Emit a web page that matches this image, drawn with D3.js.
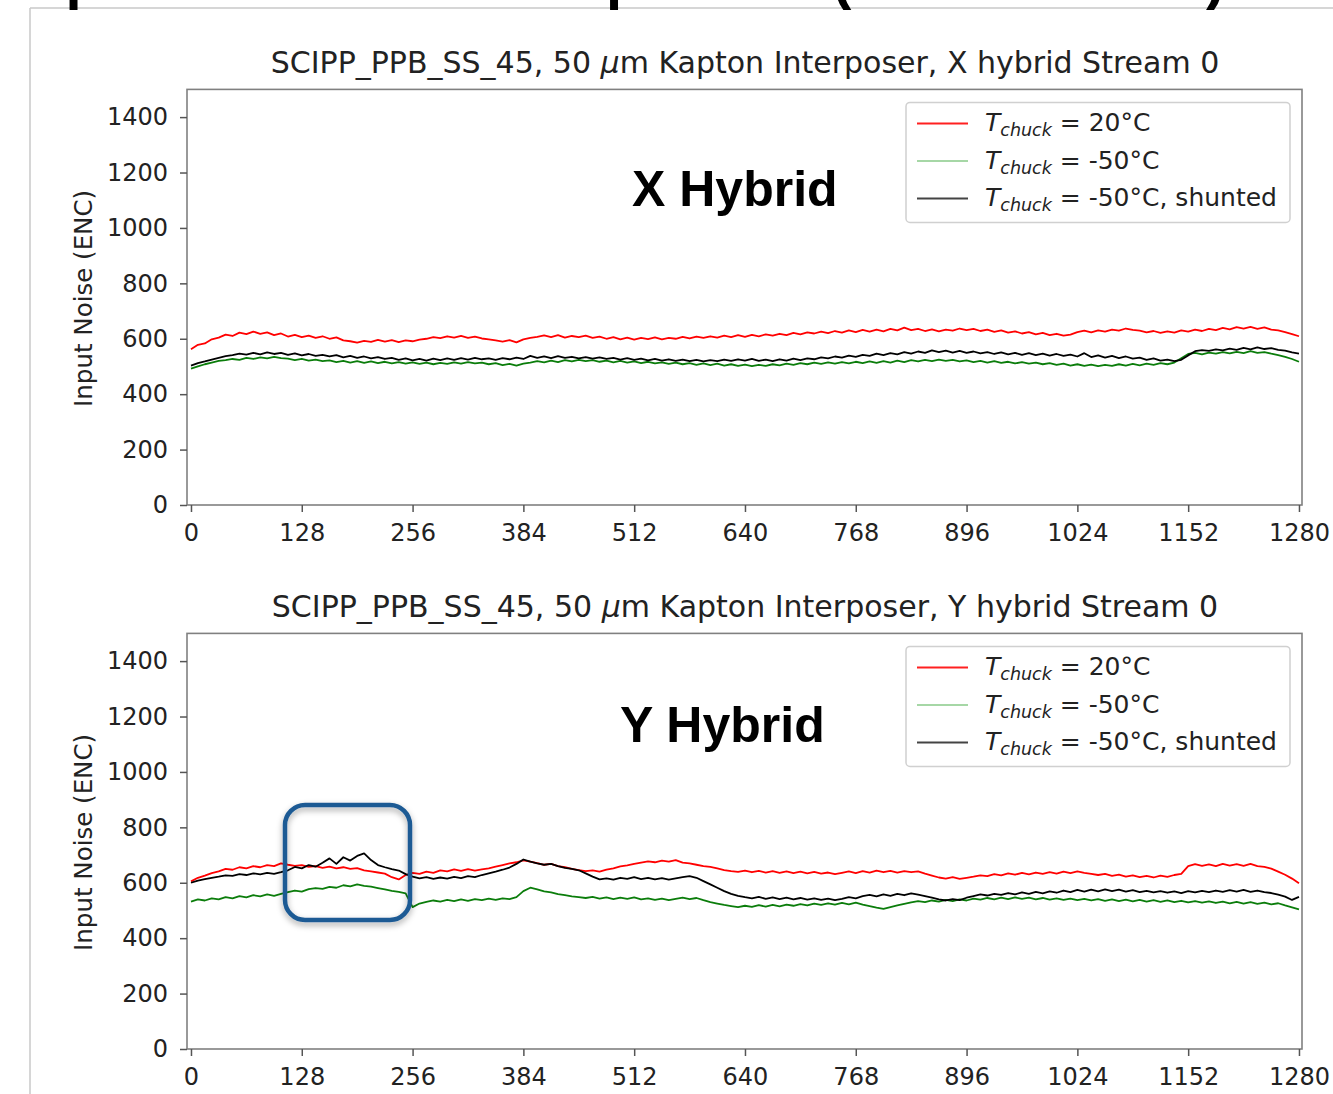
<!DOCTYPE html>
<html>
<head>
<meta charset="utf-8">
<script src="https://cdn.jsdelivr.net/npm/d3@7"></script>
<style>
  body { margin: 0; background: #fff; }
  svg text { font-family: "DejaVu Sans", sans-serif; }
</style>
</head>
<body>
<svg id="chart"></svg>
<script>
// Page size
const width = 1333, height = 1094;
const svg = d3.select("#chart").attr("width", width).attr("height", height);

// Channel numbers (one reading every 8 strips)
const channels = d3.range(0, 1281, 8);
const xTicks = [0, 128, 256, 384, 512, 640, 768, 896, 1024, 1152, 1280];
const yTicks = [0, 200, 400, 600, 800, 1000, 1200, 1400];
const legendLabels = [" = 20°C", " = -50°C", " = -50°C, shunted"];

// X hybrid, input noise (ENC)
const xWarm = [
  562,578,583,598,604,615,610,622,617,626,618,623,613,619,608,614,606,611,603,609,
  600,605,594,591,586,592,589,596,590,595,588,594,591,597,600,606,602,609,604,610,
  603,608,601,598,594,590,595,587,598,603,607,612,606,613,604,610,606,611,603,608,
  600,606,598,604,597,603,599,605,598,603,600,607,601,608,603,609,604,611,606,613,
  607,614,609,616,611,618,613,621,616,623,619,626,620,628,622,630,624,632,626,633,
  627,636,630,640,631,636,628,634,627,633,629,637,631,636,628,633,625,630,622,627,
  619,624,616,621,613,618,611,615,624,629,623,630,626,633,629,637,632,629,623,628,
  621,627,622,630,626,633,628,636,631,639,634,642,637,643,636,641,633,630,624,617,
  609];
const xCold = [
  492,500,508,514,520,523,527,524,531,527,533,529,535,530,528,523,527,521,525,519,
  522,516,520,514,519,513,518,512,517,511,516,510,515,509,514,508,513,509,515,510,
  516,511,514,508,512,505,509,503,510,514,519,515,521,516,523,518,524,519,523,517,
  521,515,520,514,518,512,517,511,515,509,514,508,512,506,511,505,510,503,508,502,
  507,501,506,502,508,504,510,506,512,508,514,509,515,510,516,511,517,512,518,513,
  519,514,521,516,523,518,524,519,525,520,524,518,522,516,520,514,519,513,517,511,
  516,510,514,508,512,506,510,503,508,502,507,501,506,502,508,503,509,504,510,506,
  512,508,514,530,545,549,544,550,546,552,547,553,548,555,549,552,546,541,535,527,
  517];
const xShunt = [
  503,512,518,525,531,537,541,546,543,549,544,551,545,549,542,547,540,545,538,542,
  536,541,533,538,531,536,529,534,527,531,524,529,522,527,521,528,523,529,524,530,
  525,531,526,529,524,530,526,532,527,538,531,536,530,537,531,535,529,534,528,533,
  527,531,525,530,524,528,522,527,521,526,520,525,519,524,518,523,519,525,520,526,
  521,527,520,525,519,526,521,528,523,529,526,533,529,536,532,539,535,542,538,546,
  541,548,544,552,546,554,549,558,552,557,550,556,549,554,547,552,545,551,544,549,
  542,548,541,546,539,545,538,543,536,548,534,540,532,538,530,536,528,532,524,529,
  521,525,519,524,540,555,559,556,562,558,564,560,567,562,569,563,566,560,557,551,
  546];

// Y hybrid, input noise (ENC)
const yWarm = [
  605,618,626,635,641,650,647,656,652,660,656,664,660,670,665,661,664,657,660,654,
  658,652,656,650,653,645,641,637,633,620,612,628,636,632,640,636,645,641,648,643,
  649,644,648,652,658,664,670,674,681,676,671,665,668,660,656,650,646,642,645,640,
  647,652,659,663,668,673,677,674,680,676,682,673,670,665,660,657,652,646,642,639,
  644,638,643,637,642,636,641,635,640,634,639,633,637,631,636,641,635,642,637,644,
  638,643,637,642,638,641,633,626,619,615,620,614,618,622,627,624,631,627,634,629,
  636,630,637,632,638,633,640,635,641,636,632,628,632,625,629,622,627,620,625,619,
  626,621,628,632,660,667,661,666,660,668,662,667,661,668,660,657,651,640,629,615,
  598];
const yCold = [
  532,540,536,544,540,548,544,552,547,555,551,558,553,560,566,572,568,577,581,578,
  585,582,591,587,594,589,586,581,576,571,567,562,512,525,531,536,532,538,534,540,
  535,541,537,543,538,544,541,548,570,582,576,569,565,559,555,551,548,545,549,543,
  547,541,546,542,547,540,544,538,543,537,542,546,541,545,537,530,525,520,516,512,
  517,513,519,514,520,515,521,517,523,518,525,520,526,521,527,522,528,521,516,510,
  506,512,518,524,529,534,530,536,532,538,534,540,536,543,539,545,540,546,541,547,
  542,546,540,545,539,544,538,543,537,542,536,541,535,540,534,539,533,538,532,537,
  531,536,530,535,529,534,528,533,527,532,526,531,525,530,524,528,522,526,518,511,
  504];
const yShunt = [
  600,608,613,618,622,627,625,631,628,634,630,636,632,638,645,657,652,664,658,672,
  688,668,692,680,697,706,682,664,656,649,644,631,622,616,620,614,619,615,621,617,
  624,620,628,634,640,647,655,668,684,676,670,665,668,660,654,650,645,634,622,612,
  616,611,618,614,620,613,618,612,617,611,616,620,624,618,606,594,582,570,560,553,
  548,544,549,542,547,541,546,540,545,539,544,538,543,537,542,548,544,552,556,551,
  558,553,560,555,562,557,552,546,540,536,541,537,546,552,558,554,560,556,563,558,
  565,560,567,562,569,564,572,566,574,568,575,569,576,570,575,568,573,566,571,565,
  570,564,569,563,570,565,571,566,572,567,573,568,574,567,572,566,563,557,550,538,
  549];

const lineColors = ["#ff0000", "#0b7d0b", "#000000"];
const legendColors = ["#ff2020", "#a6d7a6", "#444444"];

const defs = svg.append("defs");
defs.append("filter").attr("id", "shadow")
  .attr("x", "-20%").attr("y", "-20%").attr("width", "140%").attr("height", "140%")
  .append("feDropShadow")
  .attr("dx", 0).attr("dy", 3).attr("stdDeviation", 3)
  .attr("flood-color", "#000").attr("flood-opacity", 0.35);

// slide frame + the slide heading, mostly cut off above the page
svg.append("line").attr("x1", 30).attr("x2", 30).attr("y1", 8).attr("y2", height)
  .attr("stroke", "#c8c8c8").attr("stroke-width", 1.5);
svg.append("line").attr("x1", 30).attr("x2", width).attr("y1", 8).attr("y2", 8)
  .attr("stroke", "#c8c8c8").attr("stroke-width", 1.5);
const heading = svg.append("text")
  .attr("y", -2)
  .style("font-family", "'Liberation Sans', Arial, sans-serif")
  .style("font-weight", "bold").style("font-size", "58px")
  .attr("fill", "#000");
heading.append("tspan").attr("x", 14).text("Input Noise Com");
heading.append("tspan").attr("x", 606).text("parison");
heading.append("tspan").attr("x", 832).text("(");
heading.append("tspan").attr("x", 872).text("Shunted");
heading.append("tspan").attr("x", 1206).text(")");

const x = d3.scaleLinear().domain([-4.6, 1283.5]).range([187, 1302]);

function drawPanel(top, title, label, labelY, labelX, series) {
  const y = d3.scaleLinear().domain([0, 1500]).range([top + 415.6, top]);
  const g = svg.append("g");

  // data lines: warm, cold, shunted
  const line = d3.line().x((d, i) => x(channels[i])).y(d => y(d));
  series.forEach((s, k) => {
    g.append("path").datum(s)
      .attr("d", line)
      .attr("fill", "none")
      .attr("stroke", lineColors[k])
      .attr("stroke-width", 1.8)
      .attr("stroke-linejoin", "round");
  });

  // frame
  g.append("rect")
    .attr("x", x.range()[0]).attr("y", top)
    .attr("width", x.range()[1] - x.range()[0]).attr("height", 415.6)
    .attr("fill", "none").attr("stroke", "#808080").attr("stroke-width", 1.6);

  const xAxis = g.append("g").attr("transform", `translate(0,${top + 415.6})`)
    .call(d3.axisBottom(x).tickValues(xTicks).tickFormat(d3.format("d"))
      .tickSize(7).tickPadding(12));
  const yAxis = g.append("g").attr("transform", `translate(${x.range()[0]},0)`)
    .call(d3.axisLeft(y).tickValues(yTicks).tickFormat(d3.format("d"))
      .tickSize(7).tickPadding(12));
  [xAxis, yAxis].forEach(a => {
    a.select(".domain").remove();
    a.selectAll(".tick line").attr("stroke", "#555").attr("stroke-width", 1.5);
    a.selectAll(".tick text")
      .style("font-family", "'DejaVu Sans', sans-serif")
      .style("font-size", "24px").attr("fill", "#222");
  });

  // panel title
  const t = g.append("text")
    .attr("x", 745).attr("y", top - 16)
    .attr("text-anchor", "middle")
    .style("font-size", "30px").attr("fill", "#222");
  t.append("tspan").text(title[0]);
  t.append("tspan").style("font-style", "italic").text("μ");
  t.append("tspan").text(title[1]);

  // y label
  g.append("text")
    .attr("transform", `translate(92,${top + 209}) rotate(-90)`)
    .attr("text-anchor", "middle")
    .style("font-size", "24.5px").attr("fill", "#222")
    .text("Input Noise (ENC)");

  // big hybrid label
  g.append("text")
    .attr("x", labelX).attr("y", labelY)
    .style("font-family", "'Liberation Sans', Arial, sans-serif")
    .style("font-weight", "bold").style("font-size", "50px")
    .attr("fill", "#000")
    .text(label);

  // legend
  const lg = g.append("g").attr("transform", `translate(906,${top + 13})`);
  lg.append("rect").attr("width", 384).attr("height", 120).attr("rx", 4)
    .attr("fill", "#fff").attr("fill-opacity", 0.85)
    .attr("stroke", "#d0d0d0").attr("stroke-width", 1.5);
  legendLabels.forEach((lab, k) => {
    const cy = 21 + k * 37.5;
    lg.append("line").attr("x1", 11).attr("x2", 62).attr("y1", cy).attr("y2", cy)
      .attr("stroke", legendColors[k]).attr("stroke-width", 2);
    const tx = lg.append("text").attr("x", 79).attr("y", cy + 8)
      .style("font-size", "25px").attr("fill", "#222");
    tx.append("tspan").style("font-style", "italic").text("T");
    tx.append("tspan").style("font-style", "italic").style("font-size", "17.5px")
      .attr("dy", 5).text("chuck");
    tx.append("tspan").attr("dy", -5).text(lab);
  });
}

drawPanel(89.4,
  ["SCIPP_PPB_SS_45, 50 ", "m Kapton Interposer, X hybrid Stream 0"],
  "X Hybrid", 206, 632, [xWarm, xCold, xShunt]);
drawPanel(633.4,
  ["SCIPP_PPB_SS_45, 50 ", "m Kapton Interposer, Y hybrid Stream 0"],
  "Y Hybrid", 742, 620, [yWarm, yCold, yShunt]);

// highlight box drawn on the slide around the bump in the Y hybrid
svg.append("rect")
  .attr("x", 285).attr("y", 805).attr("width", 125).attr("height", 115)
  .attr("rx", 20)
  .attr("fill", "none").attr("stroke", "#1d5a94").attr("stroke-width", 4.5)
  .attr("filter", "url(#shadow)");
</script>
</body>
</html>
